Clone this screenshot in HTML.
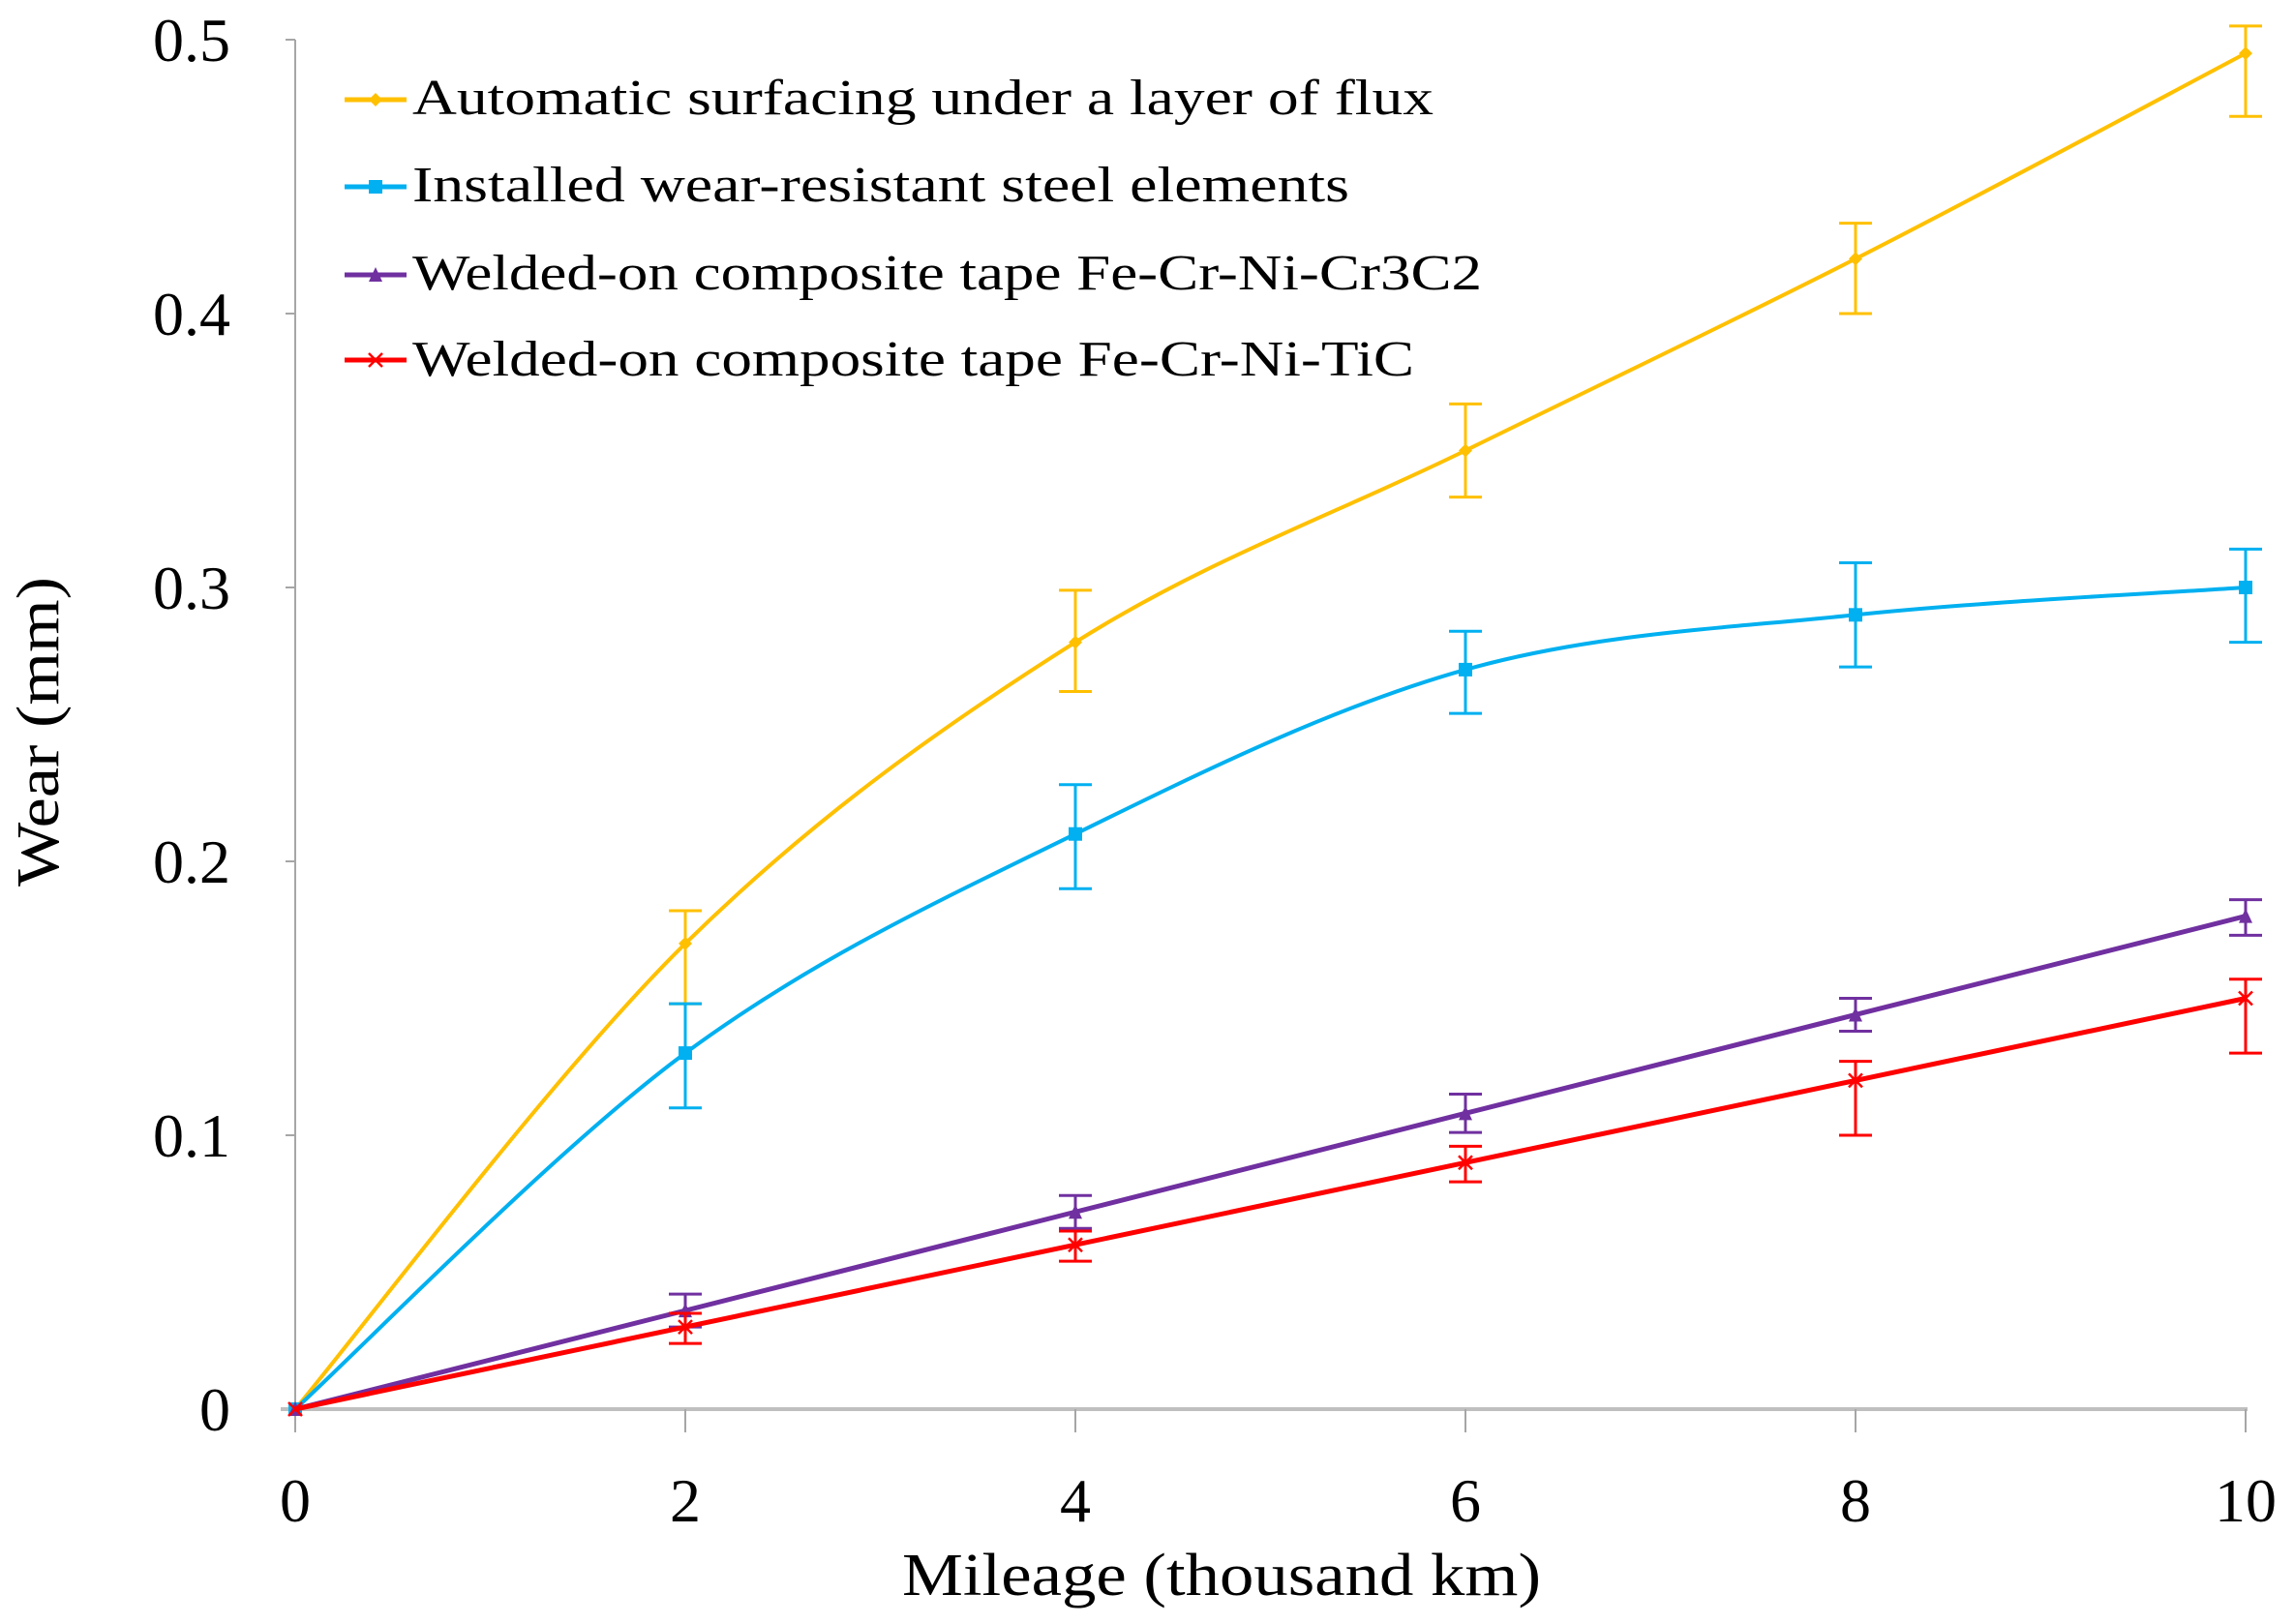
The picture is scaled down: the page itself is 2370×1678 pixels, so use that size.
<!DOCTYPE html>
<html><head><meta charset="utf-8"><style>
html,body{margin:0;padding:0;background:#fff;}
svg{display:block;}
text{font-family:"Liberation Serif",serif;fill:#000;}
</style></head><body>
<svg id="s" width="2370" height="1678" viewBox="0 0 2370 1678" xmlns="http://www.w3.org/2000/svg">
<g id="g"></g>
<text x="1262" y="1648" font-size="62" text-anchor="middle" textLength="660" lengthAdjust="spacingAndGlyphs">Mileage (thousand km)</text>
<text transform="translate(60,756) rotate(-90)" font-size="62" text-anchor="middle" textLength="320" lengthAdjust="spacingAndGlyphs">Wear (mm)</text>
<g font-size="52">
<text x="426" y="118" textLength="1055" lengthAdjust="spacingAndGlyphs">Automatic surfacing under a layer of flux</text>
<text x="426" y="208" textLength="968" lengthAdjust="spacingAndGlyphs">Installed wear-resistant steel elements</text>
<text x="426" y="299" textLength="1105" lengthAdjust="spacingAndGlyphs">Welded-on composite tape Fe-Cr-Ni-Cr3C2</text>
<text x="426" y="388" textLength="1035" lengthAdjust="spacingAndGlyphs">Welded-on composite tape Fe-Cr-Ni-TiC</text>
</g>
</svg>
<script>
var X0=305,X1=2320,Y0=1456,Y5=41;
function px(x){return X0+(X1-X0)*x/10;}
function py(y){return Y0-(Y0-Y5)*y/0.5;}
var g=document.getElementById('g'),h='';
h+='<line x1="305" y1="41" x2="305" y2="1456" stroke="#a6a6a6" stroke-width="2"/>';
for(var i=0;i<=5;i++){var y=py(i/10);h+='<line x1="295" y1="'+y+'" x2="305" y2="'+y+'" stroke="#a6a6a6" stroke-width="2"/>';
h+='<text x="238" y="'+(y+22)+'" font-size="64" text-anchor="end">'+(i==0?'0':'0.'+i)+'</text>';}
h+='<line x1="290" y1="1456" x2="2322" y2="1456" stroke="#bfbfbf" stroke-width="4"/>';
for(var i=0;i<=5;i++){var x=px(2*i);h+='<line x1="'+x+'" y1="1456" x2="'+x+'" y2="1480" stroke="#a6a6a6" stroke-width="2"/>';
h+='<text x="'+x+'" y="1572" font-size="64" text-anchor="middle">'+(2*i)+'</text>';}
var S=[
{c:'#FFC000',v:[0,.17,.28,.35,.42,.495],e:[[0,0],[.182,.148],[.299,.262],[.367,.333],[.433,.40],[.505,.472]],w:4,sm:1},
{c:'#00B0F0',v:[0,.13,.21,.27,.29,.30],e:[[0,0],[.148,.11],[.228,.19],[.284,.254],[.309,.271],[.314,.28]],w:4,sm:1},
{c:'#7030A0',v:[0,.036,.072,.108,.144,.18],e:[[0,0],[.042,.03],[.078,.066],[.115,.101],[.15,.138],[.186,.173]],w:5,sm:0},
{c:'#FF0000',v:[0,.03,.06,.09,.12,.15],e:[[0,0],[.035,.024],[.065,.054],[.096,.083],[.127,.10],[.157,.13]],w:5,sm:0}];
S.forEach(function(s,k){
 var P=s.v.map(function(v,i){return [px(2*i),py(v)];});
 var d='M'+P[0][0]+','+P[0][1];
 for(var i=0;i<P.length-1;i++){
  var p0=P[Math.max(0,i-1)],p1=P[i],p2=P[i+1],p3=P[Math.min(P.length-1,i+2)];
  var t=s.sm?6:1e9;
  d+=' C'+(p1[0]+(p2[0]-p0[0])/t)+','+(p1[1]+(p2[1]-p0[1])/t)+' '+(p2[0]-(p3[0]-p1[0])/t)+','+(p2[1]-(p3[1]-p1[1])/t)+' '+p2[0]+','+p2[1];
 }
 h+='<path d="'+d+'" fill="none" stroke="'+s.c+'" stroke-width="'+s.w+'"/>';
 s.e.forEach(function(e,i){if(i==0)return;var x=px(2*i),a=py(e[0]),b=py(e[1]);
  h+='<path d="M'+x+','+a+'V'+b+'M'+(x-17)+','+a+'H'+(x+17)+'M'+(x-17)+','+b+'H'+(x+17)+'" stroke="'+s.c+'" stroke-width="3" fill="none"/>';});
 P.forEach(function(p){h+=mk(k,p[0],p[1],s.c,7);});
 var ly=[103,193,284,372][k];
 h+='<line x1="356" y1="'+ly+'" x2="420" y2="'+ly+'" stroke="'+s.c+'" stroke-width="5"/>'+mk(k,388,ly,s.c,7);
});
function mk(k,x,y,c,r){
 if(k==0)return '<path d="M'+x+','+(y-r)+'L'+(x+r)+','+y+'L'+x+','+(y+r)+'L'+(x-r)+','+y+'Z" fill="'+c+'"/>';
 if(k==1)return '<rect x="'+(x-r)+'" y="'+(y-r)+'" width="'+2*r+'" height="'+2*r+'" fill="'+c+'"/>';
 if(k==2)return '<path d="M'+x+','+(y-r-1)+'L'+(x+r)+','+(y+r)+'L'+(x-r)+','+(y+r)+'Z" fill="'+c+'"/>';
 return '<path d="M'+(x-r)+','+(y-r)+'L'+(x+r)+','+(y+r)+'M'+(x+r)+','+(y-r)+'L'+(x-r)+','+(y+r)+'" stroke="'+c+'" stroke-width="2.5"/>';
}
g.innerHTML=h;
</script>
</body></html>
